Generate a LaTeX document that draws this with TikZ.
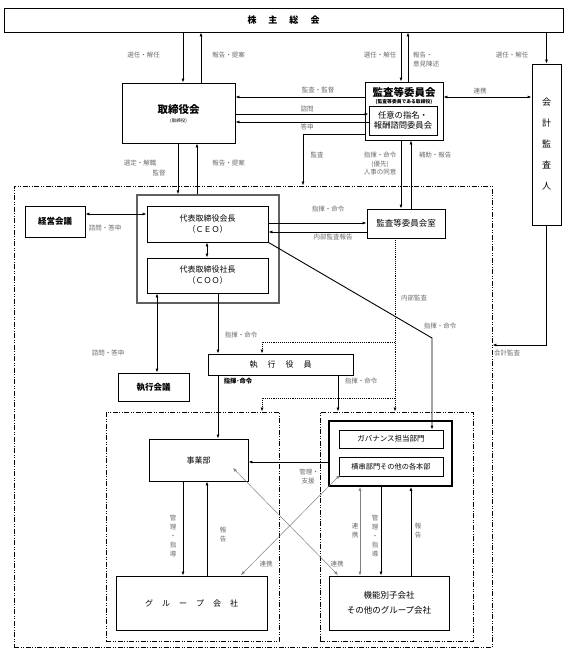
\documentclass[tikz,border=0pt]{standalone}
\usepackage{fontspec}
\setmainfont{Noto Sans CJK JP}
\usetikzlibrary{arrows.meta}
\definecolor{lblgray}{gray}{0.42}
\tikzset{
  box/.style={draw, line width=0.8pt, inner sep=0pt, align=center, font=\fontsize{8}{10}\selectfont},
  lbl/.style={inner sep=0pt, align=center, text=lblgray, font=\fontsize{6.5}{8.5}\selectfont},
  vlbl/.style={inner sep=0pt, align=center, text=lblgray, font=\fontsize{6.5}{9}\selectfont},
  chainline/.style={line width=0.9pt, dash pattern=on 5pt off 1.5pt on 1pt off 1.5pt on 1pt off 1.5pt},
  dotline/.style={line width=0.9pt, densely dotted},
  link/.style={line width=0.9pt},
  soft/.style={line width=0.5pt, gray},
}
\begin{document}
\begin{tikzpicture}[x=1pt, y=-1pt, >={Latex[length=4pt,width=3pt]}]
    \useasboundingbox (0,0) rectangle (567,654);
    % boxes
    \node[box, minimum width=559pt, minimum height=24pt, font=\bfseries\fontsize{9}{11}\selectfont] (gm) at (283.5,20) {株\hspace{12pt}主\hspace{12pt}総\hspace{12pt}会};
    \node[box, minimum width=113pt, minimum height=60pt] (bod) at (178.5,113) {};
    \node[inner sep=0pt, font=\bfseries\fontsize{10.5}{12}\selectfont] (bodtitle) at (178.5,110) {取締役会};
    \node[inner sep=0pt, font=\fontsize{4.5}{5}\selectfont] (bodsub) at (178.5,121) {(取締役)};
    \node[box, minimum width=78pt, minimum height=58pt] (ac) at (404,111) {};
    \node[inner sep=0pt, font=\bfseries\fontsize{10.5}{12}\selectfont] (actitle) at (404,92) {監査等委員会};
    \node[inner sep=0pt, font=\bfseries\fontsize{4.8}{5}\selectfont] (acsub) at (404,101.5) {(監査等委員である取締役)};
    \node[box, minimum width=68pt, minimum height=29pt, font=\fontsize{8.3}{10}\selectfont] (nc) at (403,120.5) {任意の指名・\\報酬諮問委員会};
    \node[box, minimum width=29pt, minimum height=161pt, font=\fontsize{9}{21}\selectfont] (auditor) at (546.5,144.5) {会\\計\\監\\査\\人};
    \node[draw, chainline, inner sep=0pt, minimum width=478pt, minimum height=461pt] (mainarea) at (253,416.5) {};
    \node[box, minimum width=60pt, minimum height=31pt, font=\bfseries\fontsize{8.5}{10}\selectfont] (keiei) at (55,221.5) {経営会議};
    \node[draw=gray!75!black, line width=1.3pt, inner sep=0pt, minimum width=142pt, minimum height=108pt] (topmgmt) at (208,249) {};
    \node[box, minimum width=121pt, minimum height=36pt, font=\fontsize{8}{11}\selectfont] (ceo) at (207.5,224) {代表取締役会長\\（ＣＥＯ）};
    \node[box, minimum width=121pt, minimum height=35pt, font=\fontsize{8}{11}\selectfont] (coo) at (207.5,275.5) {代表取締役社長\\（ＣＯＯ）};
    \node[box, minimum width=78pt, minimum height=29pt, font=\fontsize{8.5}{10}\selectfont] (acr) at (406,223.5) {監査等委員会室};
    \node[box, minimum width=145pt, minimum height=21pt] (exo) at (280.5,364.5) {執\hspace{10pt}行\hspace{10pt}役\hspace{10pt}員};
    \node[box, minimum width=71pt, minimum height=28pt, font=\bfseries\fontsize{8.5}{10}\selectfont] (exm) at (153.5,387) {執行会議};
    \node[draw, chainline, inner sep=0pt, minimum width=173pt, minimum height=229pt] (bizarea) at (192.5,526.5) {};
    \node[draw, chainline, inner sep=0pt, minimum width=153pt, minimum height=229pt] (hqarea) at (396.5,526.5) {};
    \node[box, minimum width=99pt, minimum height=42pt] (biz) at (198.5,460) {事業部};
    \node[box, minimum width=151pt, minimum height=54pt] (gco) at (191.5,603) {グ\hspace{9pt}ル\hspace{9pt}ー\hspace{9pt}プ\hspace{9pt}会\hspace{9pt}社};
    \node[box, line width=1.6pt, minimum width=123pt, minimum height=65pt] (hq) at (390.5,453.5) {};
    \node[box, minimum width=104pt, minimum height=18pt, font=\fontsize{7.5}{9}\selectfont] (gov) at (391,439) {ガバナンス担当部門};
    \node[box, minimum width=104pt, minimum height=19pt, font=\fontsize{7.2}{9}\selectfont] (cross) at (391,466.5) {横串部門その他の各本部};
    \node[box, minimum width=120pt, minimum height=54pt, font=\fontsize{8.5}{15}\selectfont] (sub) at (389,603) {機能別子会社\\その他のグループ会社};
    % helper points
    \coordinate (tapup) at (395,342);
    \coordinate (taplow) at (395,398);
    \coordinate (bend) at (432,338);
    \coordinate (bizpt) at (233,468);
    \coordinate (subpt) at (338,575);
    \coordinate (crosspt) at (340,475);
    \coordinate (gcopt) at (241,575);
    % connectors, top part
    \draw[link, ->] (gm.south -| 183,0) -- (bod.north -| 183,0);
    \draw[link, ->] (bod.north -| 201,0) -- (gm.south -| 201,0);
    \draw[link, ->] (gm.south -| 401,0) -- (ac.north -| 401,0);
    \draw[link, ->] (ac.north -| 408,0) -- (gm.south -| 408,0);
    \draw[link, ->] (gm.south -| auditor.north) -- (auditor.north);
    \draw[link, ->] (ac.west |- 0,97) -- (bod.east |- 0,97);
    \draw[link, ->] (bod.east |- 0,114) -- (nc.west |- 0,114);
    \draw[link, ->] (nc.west |- 0,122) -- (bod.east |- 0,122);
    \draw[link, ->] (ac.west |- 0,134) -| (mainarea.north -| 303,0);
    \draw[link, <->] (ac.east |- 0,97) -- (auditor.west |- 0,97);
    \draw[link, ->] (auditor.south) |- (mainarea.east |- 0,345);
    \draw[link, ->] (bod.south -| 178,0) -- (topmgmt.north -| 178,0);
    \draw[link, ->] (topmgmt.north -| 197,0) -- (bod.south -| 197,0);
    \draw[link, ->] (ac.south -| 401,0) -- (acr.north -| 401,0);
    \draw[link, ->] (acr.north -| 411,0) -- (ac.south -| 411,0);
    % management
    \draw[link, <->] (keiei.east |- 0,214) -- (ceo.west |- 0,214);
    \draw[link, <->] (ceo.south -| 207,0) -- (coo.north -| 207,0);
    \draw[link, ->] (ceo.east |- 0,223) -- (acr.west |- 0,223);
    \draw[link, ->] (acr.west |- 0,232) -- (ceo.east |- 0,232);
    \draw[link, ->] (ceo.south east) -- (bend) -- (gov.north -| bend);
    \draw[link, <->] (coo.south -| 157,0) -- (exm.north -| 157,0);
    \draw[link, ->] (coo.south -| 218,0) -- (exo.north -| 218,0);
    \draw[dotline, ->] (acr.south -| 395,0) -- (hqarea.north -| 395,0);
    \draw[dotline, ->] (tapup) -| (exo.north -| 262,0);
    \draw[dotline, ->] (taplow) -| (bizarea.north -| 262,0);
    \draw[link, ->] (exo.south -| 218,0) -- (biz.north -| 218,0);
    \draw[link, ->] (exo.south -| 338,0) -- (hqarea.north -| 338,0);
    % business side
    \draw[link, ->] (biz.south -| 183,0) -- (gco.north -| 183,0);
    \draw[link, ->] (gco.north -| 207,0) -- (biz.south -| 207,0);
    \draw[link, ->] (hq.west |- 0,462) -- (biz.east |- 0,462);
    \draw[soft, <->] (hq.south -| 360,0) -- (sub.north -| 360,0);
    \draw[link, ->] (hq.south -| 381,0) -- (sub.north -| 381,0);
    \draw[link, ->] (sub.north -| 411,0) -- (hq.south -| 411,0);
    \draw[soft, <->] (bizpt) -- (subpt);
    \draw[soft, <->] (crosspt) -- (gcopt);
    % labels
    \node[lbl] (l1) at (143.5,55) {選任・解任};
    \node[lbl] (l2) at (228.5,55) {報告・提案};
    \node[lbl] (l3) at (140,163) {選定・解職};
    \node[lbl] (l4) at (159,173) {監督};
    \node[lbl] (l5) at (228.5,163) {報告・提案};
    \node[lbl] (l6) at (318,90) {監査・監督};
    \node[lbl] (l7) at (307,109) {諮問};
    \node[lbl] (l8) at (307,127) {答申};
    \node[lbl] (l9) at (317,155) {監査};
    \node[lbl] (l10) at (380,55) {選任・解任};
    \node[lbl, anchor=west] (l11) at (413,55) {報告・};
    \node[lbl, anchor=west] (l12) at (413,64) {意見陳述};
    \node[lbl] (l13) at (380,155) {指揮・命令};
    \node[lbl] (l14) at (380,164) {(優先)};
    \node[lbl] (l15) at (380,172.5) {人事の同意};
    \node[lbl] (l16) at (435,155) {補助・報告};
    \node[lbl] (l17) at (480,91) {連携};
    \node[lbl] (l18) at (512,55) {選任・解任};
    \node[lbl, anchor=west] (l19) at (494,353) {会計監査};
    \node[lbl] (l20) at (105,228) {諮問・答申};
    \node[lbl] (l21) at (328,209) {指揮・命令};
    \node[lbl] (l22) at (333,237.5) {内部監査報告};
    \node[lbl] (l23) at (414,298) {内部監査};
    \node[lbl] (l24) at (440,326) {指揮・命令};
    \node[lbl] (l25) at (108,353) {諮問・答申};
    \node[lbl] (l26) at (241,335) {指揮・命令};
    \node[inner sep=0pt, font=\bfseries\fontsize{6.3}{8}\selectfont] (l27) at (238,381) {指揮･命令};
    \node[lbl] (l28) at (361,381) {指揮・命令};
    \node[vlbl] (l29) at (173,536) {管\\理\\・\\指\\導};
    \node[vlbl] (l30) at (223,535) {報\\告};
    \node[lbl] (l31) at (309,472) {管理・};
    \node[lbl] (l32) at (308,481) {支援};
    \node[lbl] (l33) at (266,564) {連携};
    \node[lbl] (l34) at (337,564) {連携};
    \node[vlbl] (l35) at (355,531) {連\\携};
    \node[vlbl] (l36) at (375,536) {管\\理\\・\\指\\導};
    \node[vlbl] (l37) at (418,531) {報\\告};
\end{tikzpicture}
\end{document}
